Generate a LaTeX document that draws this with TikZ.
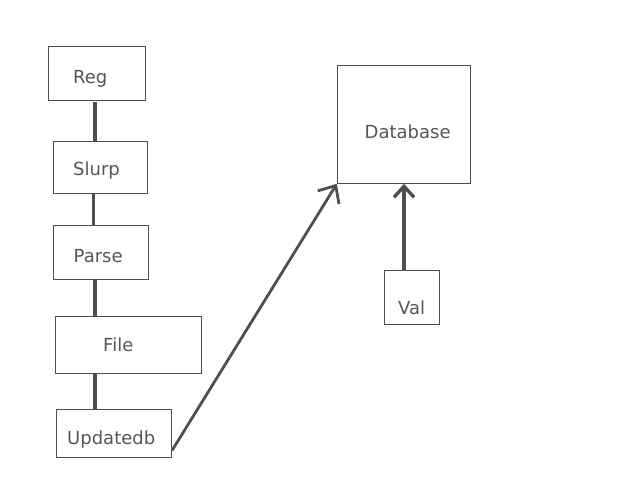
\documentclass[tikz,border=0pt]{standalone}
\usepackage{fontspec}
\setmainfont{DejaVu Sans}
\usetikzlibrary{arrows.meta}
\definecolor{ink}{HTML}{4F4F4F}
\definecolor{txt}{HTML}{555555}
\begin{document}
\begin{tikzpicture}[x=1pt,y=-1pt,
  box/.style={draw=ink,line width=0.9pt,inner sep=0pt,minimum width=#1},
  lbl/.style={anchor=base west,inner sep=0pt,text=txt,font=\fontsize{18}{21}\selectfont},
  link/.style={draw=ink,line width=3.4pt},
  arr/.style={draw=ink,line width=2.8pt}]
\useasboundingbox (0,0) rectangle (640,480);
\node[box=97.4pt,minimum height=54.3pt] (reg) at (97,73.2) {};
\node[box=94pt,minimum height=52pt] (slurp) at (100.3,167.3) {};
\node[box=95.4pt,minimum height=54pt] (parse) at (101,252.3) {};
\node[box=146.4pt,minimum height=56.6pt] (file) at (128.5,345) {};
\node[box=115.4pt,minimum height=48pt] (upd) at (114,433.3) {};
\node[box=133.4pt,minimum height=118pt] (db) at (404,124.3) {};
\node[box=55pt,minimum height=54pt] (val) at (411.8,297.3) {};
\node[lbl] (regT) at (73,83.3) {Reg};
\node[lbl] (slurpT) at (73,175) {Slurp};
\node[lbl] (parseT) at (73.5,262) {Parse};
\node[lbl] (fileT) at (103,351) {File};
\node[lbl] (updT) at (67,444) {Updatedb};
\node[lbl] (dbT) at (364.5,138) {Database};
\node[lbl] (valT) at (398,314) {Val};
\draw[link] ([xshift=-2pt,yshift=-1.5pt]reg.south) -- ([xshift=-5.3pt]slurp.north);
\draw[link] ([xshift=-6.8pt]slurp.south) -- ([xshift=-7.5pt]parse.north);
\draw[link] ([xshift=-6pt]parse.south) -- ([xshift=-33.5pt]file.north);
\draw[link] ([xshift=-33.5pt]file.south) -- ([xshift=-19pt]upd.north);
\draw[arr,-{Straight Barb[length=14pt,width=25pt]}] ([yshift=-17pt]upd.east) -- (db.south west);
\draw[link,-{Straight Barb[length=11pt,width=20pt]}] ([xshift=-7.8pt]val.north) -- (db.south);
\end{tikzpicture}
\end{document}
